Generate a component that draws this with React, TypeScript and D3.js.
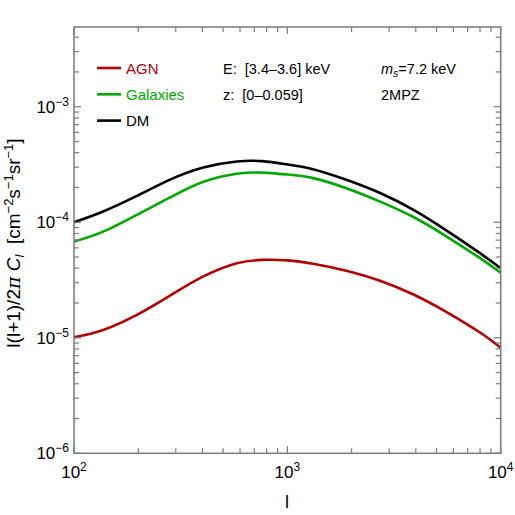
import * as d3 from 'd3';
import React from 'react';

// multipole values
const ells = [100, 137, 197, 282, 404, 580, 760, 1000, 1320, 1890, 2720, 3900, 5580, 8000, 10000];

const dmVals = [1.0e-4, 1.24e-4, 1.69e-4, 2.34e-4, 2.98e-4, 3.36e-4, 3.38e-4, 3.17e-4, 2.88e-4, 2.33e-4, 1.79e-4, 1.28e-4, 8.47e-5, 5.4e-5, 4.0e-5];
const galVals = [6.8e-5, 8.3e-5, 1.16e-4, 1.64e-4, 2.24e-4, 2.63e-4, 2.69e-4, 2.59e-4, 2.41e-4, 1.97e-4, 1.51e-4, 1.11e-4, 7.52e-5, 4.89e-5, 3.66e-5];
const agnVals = [1.01e-5, 1.17e-5, 1.58e-5, 2.32e-5, 3.4e-5, 4.42e-5, 4.72e-5, 4.68e-5, 4.38e-5, 3.81e-5, 3.12e-5, 2.37e-5, 1.67e-5, 1.11e-5, 8.2e-6];

const seriesNames = ['AGN', 'Galaxies', 'DM'];
const seriesColors = ['#b30000', '#00a800', '#000000'];

const xDecades = [2, 3, 4];
const yDecades = [-6, -5, -4, -3];

export default function App() {
    const width = 515, height = 515;
    const left = 74, right = 500.7, top = 27, bottom = 453.3;
    const font = '"Liberation Sans", Arial, sans-serif';

    const x = d3.scaleLog().domain([100, 10000]).range([left, right]);
    const y = d3.scaleLog().domain([1e-6, 4.9e-3]).range([bottom, top]);

    const line = d3.line<number>()
        .x((_, i) => x(ells[i]))
        .y(d => y(d))
        .curve(d3.curveNatural);

    const data = [agnVals, galVals, dmVals];

    // tick positions
    const xTicks: { v: number, major: boolean }[] = [];
    for (let e = 2; e < 4; e++) for (let k = 1; k < 10; k++) xTicks.push({ v: k * Math.pow(10, e), major: k === 1 });
    xTicks.push({ v: 1e4, major: true });
    const yTicks: { v: number, major: boolean }[] = [];
    for (let e = -6; e < -2; e++) for (let k = 1; k < 10; k++) {
        const v = k * Math.pow(10, e);
        if (v <= 4.9e-3) yTicks.push({ v, major: k === 1 });
    }

    const frame = '#7a7a7a';

    return (
        <svg width={width} height={height} style={{ position: 'absolute', left: 0, top: 0 }} fontFamily={font}>
            <rect x={0} y={0} width={width} height={height} fill="white" />
            {data.map((vals, i) => (
                <path key={i} d={line(vals) || ''} fill="none" stroke={seriesColors[i]} strokeWidth={2.6} />
            ))}
            <rect x={left} y={top} width={right - left} height={bottom - top} fill="none" stroke={frame} strokeWidth={1.5} />
            {xTicks.map((t, i) => {
                const len = t.major ? 7 : 5;
                return (
                    <g key={'x' + i} stroke={frame} strokeWidth={1.2}>
                        <line x1={x(t.v)} x2={x(t.v)} y1={bottom} y2={bottom - len} />
                        <line x1={x(t.v)} x2={x(t.v)} y1={top} y2={top + len} />
                    </g>
                );
            })}
            {yTicks.map((t, i) => {
                const len = t.major ? 7 : 5;
                return (
                    <g key={'y' + i} stroke={frame} strokeWidth={1.2}>
                        <line x1={left} x2={left + len} y1={y(t.v)} y2={y(t.v)} />
                        <line x1={right} x2={right - len} y1={y(t.v)} y2={y(t.v)} />
                    </g>
                );
            })}
            {xDecades.map(e => (
                <text key={'xl' + e} x={x(Math.pow(10, e))} y={478} textAnchor="middle" fontSize={17}>
                    10<tspan fontSize={12} dy={-7}>{e}</tspan>
                </text>
            ))}
            {yDecades.map(e => (
                <text key={'yl' + e} x={69} y={y(Math.pow(10, e)) + 6} textAnchor="end" fontSize={17}>
                    10<tspan fontSize={12} dy={-7}>{'\u2212' + (-e)}</tspan>
                </text>
            ))}
            <text x={287} y={508} textAnchor="middle" fontSize={18}>l</text>
            <text transform="translate(20,243) rotate(-90)" textAnchor="middle" fontSize={19} xmlSpace="preserve">
                l(l+1)/2<tspan fontFamily="DejaVu Serif" fontStyle="italic">π</tspan> <tspan fontStyle="italic">C</tspan><tspan fontSize={13} dy={4} fontStyle="italic">l</tspan>
                <tspan dy={-4}>{'  [cm'}</tspan><tspan fontSize={13} dy={-7}>{'\u22122'}</tspan>
                <tspan dy={7}>s</tspan><tspan fontSize={13} dy={-7}>{'\u22121'}</tspan>
                <tspan dy={7}>sr</tspan><tspan fontSize={13} dy={-7}>{'\u22121'}</tspan>
                <tspan dy={7}>]</tspan>
            </text>
            {seriesNames.map((n, i) => (
                <g key={n}>
                    <line x1={97} x2={121} y1={68 + i * 26.3} y2={68 + i * 26.3} stroke={seriesColors[i]} strokeWidth={2.6} />
                    <text x={126} y={73.5 + i * 26.3} fontSize={15} fill={seriesColors[i]}>{n}</text>
                </g>
            ))}
            <text x={223} y={73.5} fontSize={14.5} xmlSpace="preserve">{'E:  [3.4\u20133.6] keV'}</text>
            <text x={223} y={99.5} fontSize={14.5} xmlSpace="preserve">{'z:  [0\u20130.059]'}</text>
            <text x={381} y={73.5} fontSize={14.5}>
                <tspan fontStyle="italic">m</tspan><tspan fontSize={10.5} dy={3} fontStyle="italic">s</tspan><tspan dy={-3}>=7.2 keV</tspan>
            </text>
            <text x={381} y={99.5} fontSize={14.5}>2MPZ</text>
        </svg>
    );
}
